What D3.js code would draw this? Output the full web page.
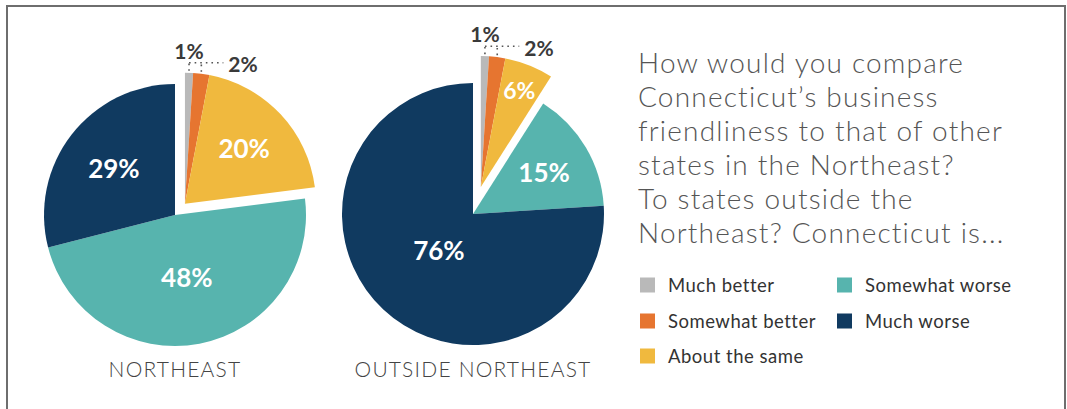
<!DOCTYPE html>
<html>
<head>
<meta charset="utf-8">
<script src="https://cdn.jsdelivr.net/npm/d3@7"></script>
<style>
  html, body { margin: 0; padding: 0; background: #fff; }
  svg { display: block; }
</style>
</head>
<body>
<script>
// Response categories, in the order they sweep clockwise from 12 o'clock
const categories = ["Much better", "Somewhat better", "About the same", "Somewhat worse", "Much worse"];
const categoryColors = ["#b9b9b9", "#e67530", "#f0b93e", "#57b4ae", "#103a60"];

// Share of respondents (%) for each comparison
const northeastValues = [1, 2, 20, 48, 29];
const outsideValues = [1, 2, 6, 15, 76];

const pieTitles = ["NORTHEAST", "OUTSIDE NORTHEAST"];

const questionLines = [
  "How would you compare",
  "Connecticut\u2019s business",
  "friendliness to that of other",
  "states in the Northeast?",
  "To states outside the",
  "Northeast? Connecticut is..."
];

const W = 1067, H = 409;
const R = 131;

const svg = d3.select("body").append("svg")
  .attr("width", W).attr("height", H);

// outer frame
svg.append("rect")
  .attr("x", 7).attr("y", 6)
  .attr("width", 1058).attr("height", 420)
  .attr("fill", "none")
  .attr("stroke", "#6e6e6e")
  .attr("stroke-width", 2);

const pie = d3.pie().sort(null).value(d => d);
const arc = d3.arc().innerRadius(0).outerRadius(R);
const numFont = "Lato, 'Noto Sans', sans-serif";

// layout for each pie: centre, how far the top group is pulled out,
// and how far from the centre each in-slice label sits (fraction of R)
const pies = [
  { values: northeastValues, title: pieTitles[0], cx: 175, cy: 215, pull: 15,
    labelR: [0, 0, 0.62, 0.48, 0.59], labelSize: [0, 0, 26, 26, 26] },
  { values: outsideValues, title: pieTitles[1], cx: 473, cy: 214, pull: 28,
    labelR: [0, 0, 0.8, 0.63, 0.38], labelSize: [0, 0, 23, 26, 26] }
];

const pulledGroup = [0, 1, 2];

pies.forEach(p => {
  const arcs = pie(p.values);
  const gStart = arcs[pulledGroup[0]].startAngle;
  const gEnd = arcs[pulledGroup[pulledGroup.length - 1]].endAngle;
  const gMid = (gStart + gEnd) / 2;
  const dx = p.pull * Math.sin(gMid), dy = -p.pull * Math.cos(gMid);

  const g = svg.append("g").attr("transform", `translate(${p.cx},${p.cy})`);

  const offsetOf = i => pulledGroup.includes(i) ? [dx, dy] : [0, 0];

  g.selectAll("path.slice")
    .data(arcs)
    .join("path")
    .attr("class", "slice")
    .attr("transform", (d, i) => `translate(${offsetOf(i)[0]},${offsetOf(i)[1]})`)
    .attr("d", arc)
    .attr("fill", (d, i) => categoryColors[i]);

  // in-slice value labels for the larger slices
  arcs.forEach((d, i) => {
    if (!p.labelR[i]) return;
    const a = (d.startAngle + d.endAngle) / 2;
    const r = p.labelR[i] * R;
    const [ox, oy] = offsetOf(i);
    g.append("text")
      .attr("x", ox + r * Math.sin(a))
      .attr("y", oy - r * Math.cos(a))
      .attr("text-anchor", "middle")
      .attr("dominant-baseline", "central")
      .attr("fill", "#fff")
      .attr("font-family", numFont)
      .attr("font-weight", 700)
      .attr("font-size", p.labelSize[i])
      .text(d.data + "%");
  });

  // dotted leaders for the two thin slices
  const tip = i => {
    const a = (arcs[i].startAngle + arcs[i].endAngle) / 2;
    const [ox, oy] = offsetOf(i);
    return [ox + R * Math.sin(a), oy - R * Math.cos(a)];
  };
  const t0 = tip(0), t1 = tip(1);
  const topY = Math.min(t0[1], t1[1]) - 10;
  const leaderStyle = sel => sel
    .attr("stroke", "#555")
    .attr("stroke-width", 1.6)
    .attr("stroke-dasharray", "1.6,4")
    .attr("fill", "none");

  leaderStyle(g.append("line")
    .attr("x1", t0[0]).attr("y1", t0[1] - 2)
    .attr("x2", t0[0]).attr("y2", topY));
  leaderStyle(g.append("line")
    .attr("x1", t1[0]).attr("y1", t1[1] - 2)
    .attr("x2", t1[0]).attr("y2", topY));
  leaderStyle(g.append("line")
    .attr("x1", t0[0]).attr("y1", topY)
    .attr("x2", t1[0] + 22).attr("y2", topY));

  g.append("text")
    .attr("x", t0[0]).attr("y", topY - 4)
    .attr("text-anchor", "middle")
    .attr("fill", "#3a3a3a")
    .attr("font-family", numFont)
    .attr("font-weight", 700)
    .attr("font-size", 21)
    .text(p.values[0] + "%");

  g.append("text")
    .attr("x", t1[0] + 27).attr("y", topY + 1)
    .attr("dominant-baseline", "central")
    .attr("fill", "#3a3a3a")
    .attr("font-family", numFont)
    .attr("font-weight", 700)
    .attr("font-size", 21)
    .text(p.values[1] + "%");

  // pie caption
  svg.append("text")
    .attr("x", p.cx).attr("y", 377)
    .attr("text-anchor", "middle")
    .attr("fill", "#444")
    .attr("font-family", "Lato, sans-serif")
    .attr("font-weight", 300)
    .attr("font-size", 21)
    .attr("letter-spacing", 1.2)
    .text(p.title);
});

// question text
svg.append("g").selectAll("text")
  .data(questionLines)
  .join("text")
  .attr("x", 638)
  .attr("y", (d, i) => 73 + i * 34)
  .attr("fill", "#555")
  .attr("font-family", "Lato, sans-serif")
  .attr("font-weight", 300)
  .attr("font-size", 28)
  .attr("letter-spacing", 1.2)
  .text(d => d);

// legend: two columns
const legendPos = [[640, 285], [640, 321], [640, 356], [837, 285], [837, 321]];
const leg = svg.append("g").selectAll("g")
  .data(categories)
  .join("g")
  .attr("transform", (d, i) => `translate(${legendPos[i][0]},${legendPos[i][1]})`);
leg.append("rect")
  .attr("x", 0).attr("y", -7.5)
  .attr("width", 15).attr("height", 15)
  .attr("fill", (d, i) => categoryColors[i]);
leg.append("text")
  .attr("x", 28).attr("y", 0)
  .attr("dominant-baseline", "central")
  .attr("fill", "#333")
  .attr("font-family", "Lato, sans-serif")
  .attr("font-size", 18.5)
  .attr("letter-spacing", 0.5)
  .text(d => d);
</script>
</body>
</html>
